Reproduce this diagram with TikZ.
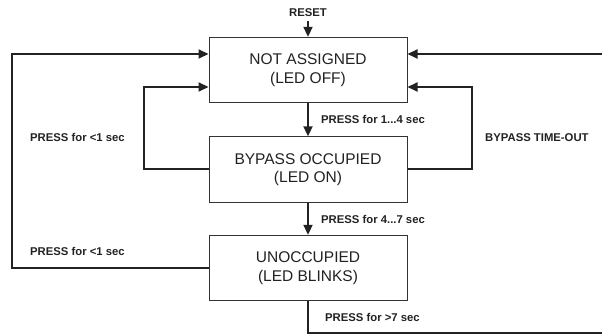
\documentclass[tikz,border=0pt]{standalone}
\usepackage{fontspec}
\setmainfont{Liberation Sans}
\usetikzlibrary{arrows.meta}
\definecolor{ink}{HTML}{222222}
\definecolor{boxline}{HTML}{333333}
\tikzset{
  statebox/.style={draw=boxline, line width=1pt, minimum width=198pt, minimum height=65.4pt,
    align=center, font=\fontsize{15.5}{18.6}\selectfont, text=ink, inner sep=0pt},
  lbl/.style={font=\fontsize{11.3}{13}\selectfont\bfseries, text=ink, inner sep=0pt},
  conn/.style={draw=ink, line width=2pt},
  arr/.style={conn, -{Triangle[length=10pt,width=9pt]}},
}
\begin{document}
\begin{tikzpicture}[x=1pt,y=-1pt]
\useasboundingbox (0,0) rectangle (602,336);
\node[statebox] (b1) at (308,70) {NOT ASSIGNED\\(LED OFF)};
\node[statebox] (b2) at (308,169.5) {BYPASS OCCUPIED\\(LED ON)};
\node[statebox] (b3) at (308,268) {UNOCCUPIED\\(LED BLINKS)};

\node[lbl] (reset) at (308,13) {RESET};
\node[lbl, anchor=west] (l14) at (321,119.3) {PRESS for 1...4 sec};
\node[lbl, anchor=west] (l47) at (321,219.3) {PRESS for 4...7 sec};
\node[lbl, anchor=west] (l7) at (325,317.3) {PRESS for >7 sec};
\node[lbl, anchor=west] (lu1) at (30,137) {PRESS for <1 sec};
\node[lbl, anchor=west] (lu2) at (30,251.7) {PRESS for <1 sec};
\node[lbl, anchor=west] (lbt) at (485,137.3) {BYPASS TIME-OUT};

\coordinate (b1wu) at (b1.west |- 0,54);
\coordinate (b1wl) at (b1.west |- 0,87);
\coordinate (b1eu) at (b1.east |- 0,54);
\coordinate (b1el) at (b1.east |- 0,87);
\coordinate (ol) at (12.3,0);
\coordinate (il) at (144,0);
\coordinate (ir) at (472.3,0);
\coordinate (orr) at (612,333.3);

\draw[arr] (308,21) -- (b1.north);
\draw[arr] (b1.south) -- (b2.north);
\draw[arr] (b2.south) -- (b3.north);
\draw[arr] (b3.west) -- (ol |- b3.west) -- (ol |- b1wu) -- (b1wu);
\draw[arr] (b2.west) -- (il |- b2.west) -- (il |- b1wl) -- (b1wl);
\draw[arr] (b2.east) -- (ir |- b2.east) -- (ir |- b1el) -- (b1el);
\draw[arr] (b3.south) -- (b3.south |- orr) -- (orr) -- (orr |- b1eu) -- (b1eu);
\end{tikzpicture}
\end{document}
